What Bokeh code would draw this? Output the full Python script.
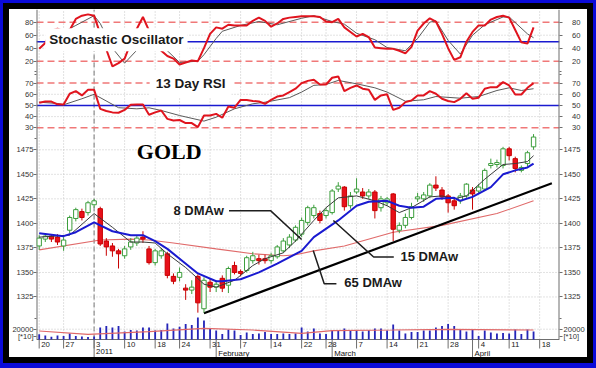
from bokeh.plotting import figure
from bokeh.models import (Range1d, LinearAxis, FixedTicker, ColumnDataSource,
                          LabelSet, Label, Span)
from bokeh.core.properties import value
from bokeh.embed import file_html
from bokeh.resources import INLINE

# ---------------- data (trading-day index 0 = Dec 20 2010) ----------------
week_days = [0, 4, 9, 14, 19, 23, 28, 33, 38, 43, 47, 52, 57, 62, 67, 72, 77, 82]
week_labels = ["20", "27", "3", "10", "18", "24", "31", "7", "14", "22", "28",
               "7", "14", "21", "28", "4", "11", "18"]
month_days = [9, 29, 48, 71]
month_labels = ["2011", "February", "March", "April"]
year_break_day = 9

opens = [1377, 1384, 1387, 1386, 1377, 1393, 1405, 1412, 1411, 1419,
         1415, 1382, 1377, 1372, 1367, 1376, 1380, 1386, 1374, 1360,
         1367, 1369, 1346, 1345, 1334, 1332, 1346, 1313, 1340, 1335,
         1344, 1337, 1357, 1351, 1352, 1362, 1364, 1364, 1362, 1366,
         1372, 1378, 1383, 1389, 1401, 1408, 1410, 1408, 1411, 1435,
         1437, 1418, 1432, 1432, 1428, 1432, 1416, 1421, 1430, 1393,
         1398, 1406, 1425, 1425, 1428, 1439, 1434, 1428, 1423, 1423,
         1428, 1434, 1433, 1435, 1459, 1460, 1459, 1476, 1466, 1454,
         1461, 1478]
highs = [1388, 1390, 1389, 1389, 1386, 1408, 1416, 1415, 1423, 1425,
         1417, 1385, 1380, 1374, 1377, 1385, 1388, 1392, 1377, 1374,
         1375, 1371, 1349, 1355, 1338, 1342, 1348, 1345, 1344, 1342,
         1347, 1356, 1361, 1353, 1367, 1371, 1368, 1368, 1370, 1378,
         1385, 1389, 1398, 1406, 1418, 1419, 1413, 1416, 1435, 1442,
         1438, 1432, 1446, 1436, 1435, 1434, 1428, 1427, 1431, 1401,
         1410, 1421, 1431, 1432, 1441, 1448, 1437, 1430, 1426, 1431,
         1441, 1437, 1440, 1456, 1466, 1465, 1478, 1478, 1468, 1459,
         1474, 1491]
lows = [1373, 1381, 1381, 1378, 1372, 1390, 1402, 1403, 1408, 1416,
        1377, 1367, 1366, 1354, 1364, 1373, 1377, 1380, 1358, 1357,
        1364, 1344, 1338, 1341, 1322, 1328, 1309, 1309, 1330, 1330,
        1330, 1329, 1348, 1346, 1350, 1359, 1358, 1359, 1359, 1364,
        1370, 1375, 1381, 1386, 1398, 1405, 1400, 1405, 1409, 1432,
        1413, 1415, 1430, 1425, 1425, 1405, 1412, 1418, 1382, 1390,
        1395, 1404, 1422, 1422, 1426, 1433, 1424, 1411, 1414, 1420,
        1426, 1414, 1430, 1433, 1456, 1457, 1456, 1464, 1452, 1452,
        1458, 1475]
closes = [1385, 1387, 1384, 1381, 1383, 1406, 1414, 1406, 1421, 1423,
          1379, 1376, 1372, 1369, 1374, 1381, 1385, 1384, 1360, 1372,
          1372, 1347, 1341, 1350, 1332, 1335, 1319, 1342, 1335, 1338,
          1334, 1354, 1350, 1349, 1365, 1367, 1362, 1362, 1367, 1376,
          1382, 1386, 1396, 1403, 1416, 1416, 1403, 1413, 1433, 1438,
          1417, 1428, 1435, 1428, 1432, 1413, 1425, 1425, 1394, 1398,
          1406, 1417, 1427, 1429, 1439, 1436, 1427, 1421, 1418, 1428,
          1440, 1430, 1437, 1454, 1461, 1462, 1476, 1469, 1456, 1457,
          1472, 1488]
volume = [10100, 7800, 5200, 7800, 6800, 11700, 6800, 5800, 4900, 5800,
          23300, 26200, 23300, 26200, 15500, 18400, 17500, 23300, 23300, 17500,
          18400, 31100, 21400, 24700, 30100, 28200, 42700, 36900, 21400, 17500,
          10700, 19400, 17500, 8700, 13600, 10700, 11700, 14600, 10700, 10700,
          11700, 10700, 11700,
          23300, 15500, 21400, 11700, 10700, 18400, 18400, 21400, 17500, 17500,
          15500, 18400, 21400, 21400, 17500, 29100, 17500, 11700, 14600, 14600,
          17500, 17500, 23300, 26200, 30100, 26200, 19400, 15500, 19400, 6800,
          17500, 13600, 11700, 12600, 11700, 19400, 10700, 19400, 15500]
vol_ma_days = [0, 8, 18, 27, 35, 43, 48, 58, 67, 81]
vol_ma_vals = [16500, 10100, 15100, 21700, 18400, 12000, 17100, 18400, 19800, 18400]

stoch_k = [39, 48, 67, 70, 66, 68, 85, 90, 92, 90,
           62, 38, 12, 17, 24, 48, 70, 88, 67, 52,
           36, 28, 24, 15, 18, 21, 20, 40, 62, 72,
           70, 76, 75, 75, 75, 82, 87, 82, 73, 78,
           85, 87, 88, 89, 89, 89, 88, 81, 80, 85,
           72, 65, 58, 62, 57, 41, 40, 39, 39, 36,
           32, 42, 67, 78, 86, 81, 62, 40, 22, 26,
           50, 65, 75, 75, 84, 88, 90, 87, 68, 49,
           47, 72]
stoch_d_days = [2, 4, 6, 9, 10, 12, 14, 16, 17, 20, 23, 26, 27, 29, 30, 33, 36, 39, 43,
                45, 48, 50, 52, 55, 57, 60, 62, 64, 65, 67, 69, 71, 73, 76, 77, 80, 81]
stoch_d_vals = [60, 65, 75, 90, 78, 40, 17, 37, 62, 45, 18, 20, 30, 55, 66, 75, 81, 76, 86,
                90, 81, 77, 63, 53, 41, 36, 55, 80, 82, 52, 31, 60, 76, 88, 88, 62, 56]

rsi13 = [52.5, 53.6, 53.5, 51, 50.8, 60.5, 62.8, 59, 64, 64,
         47, 45, 43.8, 43.5, 46, 50.6, 50.8, 50.9, 41.7, 43.8,
         45.5, 38, 36.6, 37, 34.2, 34.2, 30.6, 41, 41, 42.5,
         39, 49, 48, 55, 54.8, 54, 53.6, 51.5, 55, 58,
         59, 62, 65, 70, 72, 73, 68.8, 68.8, 74.8, 76,
         62.8, 65.8, 67.9, 65, 64, 55, 59, 60, 46, 48,
         53, 54.5, 59, 59, 62.8, 60.5, 56, 54, 53, 56,
         61, 56, 57, 65, 66.4, 66.4, 70.9, 67.9, 59.8, 59.8,
         65.8, 70]
rsi_avg_days = [0, 3, 4, 7, 9, 13, 16, 18, 20, 23, 27, 29, 32, 35, 37, 41, 43, 45, 47, 49,
                52, 55, 57, 60, 63, 65, 69, 72, 75, 77, 79, 81]
rsi_avg_vals = [52.9, 51.8, 50.6, 56, 60, 48, 47, 47.9, 45.5, 41, 36, 39.5, 47, 51.5, 52.9,
                57, 62, 68, 68.8, 72.4, 69.4, 65.8, 62, 53.8, 55.1, 58, 56.5, 58, 63.4,
                65.8, 63.4, 65]

ma8_days = [0, 5, 9, 12, 15, 17, 19, 21, 24, 27, 29, 32, 35, 37, 40, 42, 45, 47, 49, 52,
            55, 57, 59, 61, 64, 66, 68, 70, 73, 76, 78, 80, 81]
ma8_vals = [1386, 1388, 1410, 1396, 1381, 1381, 1380, 1369, 1355, 1338, 1335, 1342, 1357,
            1364, 1370, 1382, 1403, 1416, 1426, 1428, 1423, 1418, 1411, 1416, 1427, 1428,
            1425, 1428, 1445, 1460, 1461, 1463, 1469]
ma15_days = [0, 4, 6, 9, 12, 15, 17, 19, 21, 26, 29, 30, 33, 36, 39, 43, 45, 49, 52, 54,
             57, 59, 61, 63, 65, 68, 69, 71, 74, 76, 78, 80, 81]
ma15_vals = [1390, 1387, 1391, 1401, 1392, 1388, 1388, 1382, 1374, 1349, 1341, 1341, 1343,
             1350, 1359, 1372, 1386, 1403, 1418, 1422, 1423, 1418, 1416, 1417, 1425, 1426,
             1423, 1427, 1437, 1450, 1454, 1457, 1461]
ma65_days = [0, 10, 15, 18, 22, 29, 35, 40, 42, 45, 50, 58, 66, 75, 81]
ma65_vals = [1373, 1383, 1384, 1383, 1380, 1374, 1369, 1367, 1368, 1372, 1377, 1391, 1398,
             1410, 1423]

trend_days = [27, 84]
trend_prices = [1308.4, 1441]

stoch_ticks = [80, 60, 40, 20]
rsi_ticks = [70, 60, 50, 40, 30]
price_ticks = [1475, 1450, 1425, 1400, 1375, 1350, 1325]
vol_ticks = [20000]
vol_unit_label = "[*10]"

# annotation anchors (day index, price)
lead8_x, lead8_y = [31.1, 37.9, 43.0], [1413, 1413, 1383.6]
lead15_x, lead15_y = [48.2, 54.8, 58.1], [1403, 1365.7, 1365.7]
lead65_x, lead65_y = [44.9, 46.7, 48.7], [1372.4, 1338.4, 1338.4]

# ---------------- layout constants ----------------
FONT = "Liberation Sans"
X_LO, X_HI = -0.44, 85.25
PRICE_LO, PRICE_HI = 1263.3, 1618.0
STOCH_LO, STOCH_HI = -435.8, 99.5
RSI_LO, RSI_HI = -175.6, 135.9
VOL_PX = 1941.7                       # volume units per pixel
VOL_LO, VOL_HI = -18 * VOL_PX, 330 * VOL_PX

RED = "#e0141e"
GREEN = "#3c9e3c"
BLUE = "#1a1ad0"
DASHRED = "#f07878"
GRID = "#c4c4c4"
AXIS = "#6e6e6e"

p = figure(width=578, height=348, output_backend="svg", toolbar_location=None,
           x_range=Range1d(X_LO, X_HI), y_range=Range1d(PRICE_LO, PRICE_HI),
           x_axis_location=None, y_axis_location=None,
           min_border_left=25, min_border_right=26, min_border_top=0, min_border_bottom=0,
           background_fill_color="white", border_fill_color="white",
           outline_line_color=None)
p.extra_y_ranges = {"stoch": Range1d(STOCH_LO, STOCH_HI),
                    "rsi": Range1d(RSI_LO, RSI_HI),
                    "vol": Range1d(VOL_LO, VOL_HI)}
p.styles = {"transform": "translate(9px, 9px)",
            "box-shadow": "0 0 0 6px #000000, 0 0 0 13px #0b0bd9"}
p.xgrid.visible = False
p.ygrid.visible = False


def hline(loc, rng, color, dash, width):
    p.add_layout(Span(location=loc, dimension="width", y_range_name=rng,
                      line_color=color, line_dash=dash, line_width=width, level="underlay"))


# horizontal grid / reference lines
for v in price_ticks:
    hline(v, "default", GRID, "1 2", 1)
for v in (60, 40):
    hline(v, "stoch", GRID, "1 2", 1)
    hline(v, "rsi", GRID, "1 2", 1)
hline(20000, "vol", GRID, "1 2", 1)
hline(80, "stoch", DASHRED, "7 4", 1.5)
hline(20, "stoch", DASHRED, "7 4", 1.5)
hline(70, "rsi", DASHRED, "7 4", 1.5)
hline(30, "rsi", DASHRED, "7 4", 1.5)
hline(50, "stoch", BLUE, "solid", 1.5)
hline(50, "rsi", BLUE, "solid", 1.5)

# vertical weekly grid and year break (above the time axis only)
p.segment(x0=week_days, y0=0, x1=week_days, y1=VOL_HI, y_range_name="vol",
          line_color=GRID, line_dash="1 2", line_width=1, level="underlay")
p.segment(x0=[year_break_day], y0=0, x1=[year_break_day], y1=VOL_HI, y_range_name="vol",
          line_color="#8c8c8c", line_dash="5 3", line_width=1.2, level="underlay")

# time axis: line, ticks, labels
hline(0, "vol", AXIS, "solid", 1)
p.segment(x0=week_days, y0=0, x1=week_days, y1=-9 * VOL_PX, y_range_name="vol",
          line_color=AXIS, line_width=1)
p.segment(x0=month_days, y0=0, x1=month_days, y1=VOL_LO, y_range_name="vol",
          line_color=AXIS, line_width=1)
wsrc = ColumnDataSource(dict(x=week_days, t=week_labels))
p.add_layout(LabelSet(x="x", y=0, y_range_name="vol", text="t", source=wsrc,
                      x_offset=2, y_offset=-2.5,
                      text_align=value("left"), text_baseline=value("top"),
                      text_font=value(FONT), text_font_size=value("7.8px"),
                      text_color=value("#222222")))
msrc = ColumnDataSource(dict(x=month_days, t=month_labels))
p.add_layout(LabelSet(x="x", y=0, y_range_name="vol", text="t", source=msrc,
                      x_offset=2, y_offset=-9.2,
                      text_align=value("left"), text_baseline=value("top"),
                      text_font=value(FONT), text_font_size=value("7.8px"),
                      text_color=value("#111111")))

# y axis lines (frame edges, above the time axis)
p.segment(x0=[X_LO, X_HI], y0=[0, 0], x1=[X_LO, X_HI], y1=[VOL_HI, VOL_HI],
          y_range_name="vol", line_color=AXIS, line_width=2)

# volume
days = list(range(len(opens)))
p.vbar(x=days, width=0.3, top=volume, bottom=0, y_range_name="vol",
       fill_color="#2525b8", line_color=None)
p.line(vol_ma_days, vol_ma_vals, y_range_name="vol", line_color="#e06868", line_width=1.2)

# moving averages + trend
p.line(ma65_days, ma65_vals, line_color="#e06a6a", line_width=1.1)
p.line(trend_days, trend_prices, line_color="black", line_width=2.2)

# candles
up = [c >= o for o, c in zip(opens, closes)]
csrc = ColumnDataSource(dict(
    x=days, h=highs, l=lows,
    top=[max(o, c) for o, c in zip(opens, closes)],
    bot=[min(o, c) for o, c in zip(opens, closes)],
    fill=["white" if u else "#e8101a" for u in up],
    line=[GREEN if u else "#c80000" for u in up]))
p.segment(x0="x", y0="l", x1="x", y1="h", source=csrc, line_color="line", line_width=1)
p.vbar(x="x", width=0.72, top="top", bottom="bot", source=csrc,
       fill_color="fill", line_color="line", line_width=1)

p.line(ma8_days, ma8_vals, line_color="#3a3a3a", line_width=1)
p.line(ma15_days, ma15_vals, line_color=BLUE, line_width=2)

# oscillators
p.line(stoch_d_days, stoch_d_vals, y_range_name="stoch", line_color="#5a5a5a", line_width=1)
p.line(days, stoch_k, y_range_name="stoch", line_color=RED, line_width=2)
p.line(rsi_avg_days, rsi_avg_vals, y_range_name="rsi", line_color="#5a5a5a", line_width=1)
p.line(days, rsi13, y_range_name="rsi", line_color=RED, line_width=2)

# leader lines
for lx, ly in ((lead8_x, lead8_y), (lead15_x, lead15_y), (lead65_x, lead65_y)):
    p.line(lx, ly, line_color="#1e1e1e", line_width=1.5)

# value axes (left and right) on the shared frame


def main_pos(v, lo, hi):
    return round(PRICE_LO + (v - lo) / (hi - lo) * (PRICE_HI - PRICE_LO), 3)


tick_pos, tick_txt = [], []
for vals, lo, hi in ((stoch_ticks, STOCH_LO, STOCH_HI), (rsi_ticks, RSI_LO, RSI_HI),
                     (price_ticks, PRICE_LO, PRICE_HI), (vol_ticks, VOL_LO, VOL_HI)):
    for v in vals:
        tick_pos.append(main_pos(v, lo, hi))
        tick_txt.append(str(v))
unit_pos = main_pos(3 * VOL_PX, VOL_LO, VOL_HI)
minor = ([main_pos(v, STOCH_LO, STOCH_HI) for v in (100, 0)] +
         [main_pos(v, RSI_LO, RSI_HI) for v in (80, 20)] +
         [main_pos(40000, VOL_LO, VOL_HI)])

for side in ("left", "right"):
    over = {}
    for pos, txt in zip(tick_pos, tick_txt):
        if side == "right" and len(txt) == 2:
            txt = "\u2007\u2007" + txt
        over[pos] = txt
    over[unit_pos] = vol_unit_label
    ax = LinearAxis(ticker=FixedTicker(ticks=tick_pos + [unit_pos], minor_ticks=minor),
                    major_label_overrides=over,
                    major_tick_in=0, major_tick_out=3, minor_tick_in=0, minor_tick_out=2,
                    major_label_standoff=0 if side == "left" else 1,
                    major_label_text_font=FONT, major_label_text_font_size="7.6px",
                    major_label_text_color="#333333",
                    axis_line_color=None, major_tick_line_color=AXIS,
                    minor_tick_line_color=AXIS)
    p.add_layout(ax, side)

# titles / annotations
p.add_layout(Label(x=1.0, y=52.9, y_range_name="stoch", text="Stochastic Oscillator",
                   text_align="left", text_baseline="middle", text_font=FONT,
                   text_font_style="bold", text_font_size="13.5px", text_color="#1a1a1a",
                   background_fill_color="white", padding=4))
p.add_layout(Label(x=18.1, y=69.4, y_range_name="rsi", text="13 Day RSI",
                   text_align="left", text_baseline="middle", text_font=FONT,
                   text_font_style="bold", text_font_size="13.5px", text_color="#1a1a1a",
                   background_fill_color="white", padding=6))
p.add_layout(Label(x=16.0, y=1473.5, text="GOLD", text_align="left", text_baseline="middle",
                   text_font="Liberation Serif", text_font_style="bold",
                   text_font_size="22px", text_color="black"))
for tx, ty, tt in ((22.0, 1412.8, "8 DMAw"), (59.2, 1366.2, "15 DMAw"),
                   (50.0, 1339.7, "65 DMAw")):
    p.add_layout(Label(x=tx, y=ty, text=tt, text_align="left", text_baseline="middle",
                       text_font=FONT, text_font_style="bold", text_font_size="13px",
                       text_color="#1a1a1a"))

open("out.html", "w").write(file_html(p, INLINE))
